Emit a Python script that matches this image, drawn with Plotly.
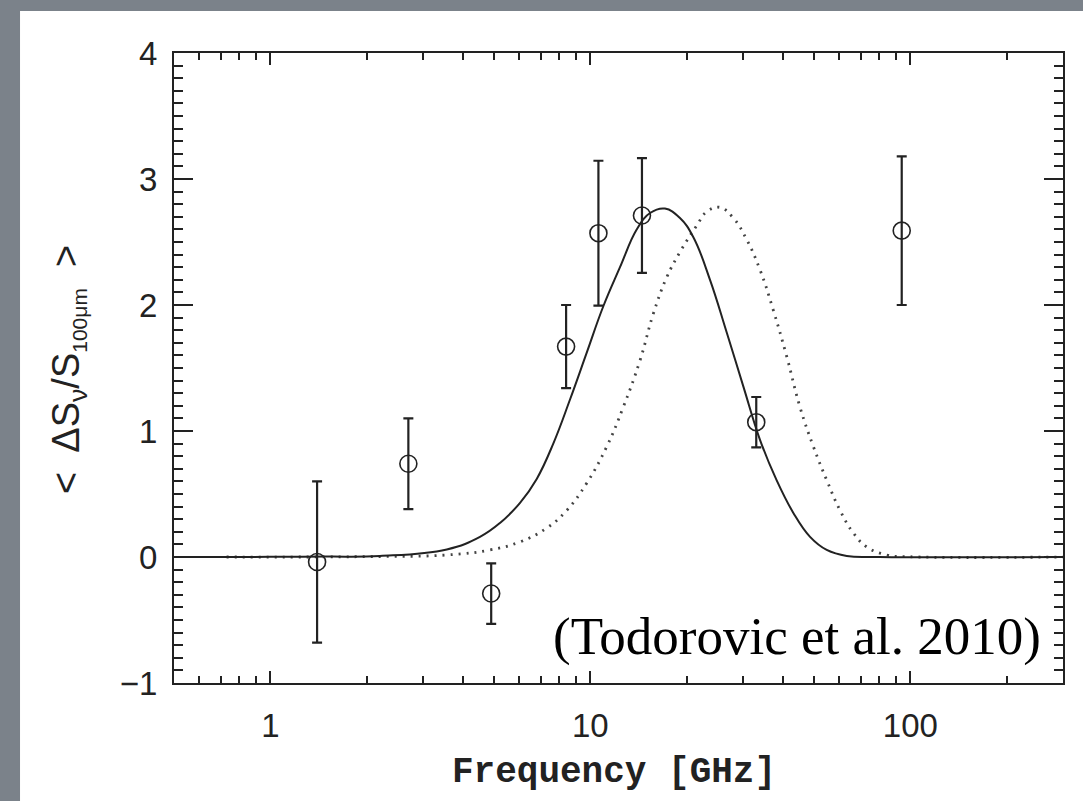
import plotly.graph_objects as go

# Measured points (frequency in GHz, ratio, symmetric 1-sigma error)
freq_ghz = [1.4, 2.7, 4.9, 8.4, 10.6, 14.5, 33.0, 94.0]
ratio = [-0.04, 0.74, -0.29, 1.67, 2.57, 2.71, 1.07, 2.59]
ratio_err = [0.64, 0.36, 0.24, 0.33, 0.575, 0.455, 0.20, 0.59]

# Solid model curve
model_a_freq = [0.5, 1.0, 1.5, 2.2, 3.56, 4.52, 5.22, 6.03, 6.80, 7.66, 8.64, 9.74,
                10.98, 12.38, 13.96, 15.37, 17.1, 19.06, 20.97, 23.66, 26.7, 30.1,
                33.9, 38.2, 43.1, 48.6, 54.8, 63.3, 80.0, 300.0]
model_a_vals = [0.0, 0.001, 0.003, 0.008, 0.06, 0.16, 0.27, 0.43, 0.62, 0.90, 1.25, 1.62,
                1.99, 2.30, 2.60, 2.73, 2.765, 2.69, 2.54, 2.20, 1.78, 1.35,
                0.93, 0.61, 0.35, 0.16, 0.056, 0.008, 0.0, 0.0]

# Dotted model curve
model_b_freq = [0.73, 2.0, 3.56, 4.86, 6.03, 7.31, 8.44, 9.74, 11.25, 12.68, 14.3, 15.73,
                17.33, 19.06, 21.5, 23.1, 25.4, 28.0, 30.8, 33.9, 37.3, 41.1, 45.2,
                49.8, 54.8, 60.3, 66.4, 73.1, 84.4, 99.8, 300.0]
model_b_vals = [0.0, 0.003, 0.016, 0.056, 0.12, 0.23, 0.37, 0.585, 0.875, 1.19, 1.56, 1.93,
                2.22, 2.42, 2.63, 2.74, 2.775, 2.69, 2.52, 2.28, 1.96, 1.59, 1.19,
                0.875, 0.61, 0.37, 0.19, 0.08, 0.016, 0.002, 0.0]

x_tickvals = [1, 10, 100]
x_ticktext = ["1", "10", "100"]
x_minor_tickvals = [0.6, 0.7, 0.8, 0.9, 2, 3, 4, 5, 6, 7, 8, 9,
                    20, 30, 40, 50, 60, 70, 80, 90, 200, 300]

INK = "#222222"

fig = go.Figure()
fig.add_trace(go.Scatter(
    x=model_b_freq, y=model_b_vals, mode="lines",
    line=dict(color="#444444", width=2.8, dash="2px,6px", shape="spline", smoothing=1.2),
    showlegend=False, hoverinfo="skip"))
fig.add_trace(go.Scatter(
    x=model_a_freq, y=model_a_vals, mode="lines",
    line=dict(color=INK, width=2, shape="spline", smoothing=1.2),
    showlegend=False, hoverinfo="skip"))
fig.add_trace(go.Scatter(
    x=freq_ghz, y=ratio, mode="markers",
    marker=dict(symbol="circle-open", size=17, color=INK, line=dict(width=1.6, color=INK)),
    error_y=dict(type="data", array=ratio_err, visible=True, color=INK, thickness=2.2, width=5),
    showlegend=False))

axis_font = dict(family="Liberation Sans, Arial, sans-serif", size=33, color=INK)

fig.update_layout(
    width=1083, height=801, autosize=False,
    margin=dict(l=174, r=20, t=53, b=118),
    paper_bgcolor="#7b828a",
    plot_bgcolor="white",
    showlegend=False,
    xaxis=dict(
        type="log", range=[-0.30103, 2.47712],
        tickmode="array", tickvals=x_tickvals, ticktext=x_ticktext,
        ticks="inside", ticklen=12, tickwidth=2, tickcolor=INK,
        minor=dict(tickmode="array", tickvals=x_minor_tickvals, ticks="inside",
                   ticklen=7, tickwidth=2, tickcolor=INK, showgrid=False),
        showline=True, linewidth=2, linecolor=INK, mirror="ticks",
        showgrid=False, zeroline=False,
        tickfont=axis_font, ticklabelstandoff=12,
    ),
    yaxis=dict(
        range=[-1, 4], tickmode="linear", tick0=0, dtick=1,
        ticks="inside", ticklen=19, tickwidth=2, tickcolor=INK,
        minor=dict(dtick=0.1, ticks="inside", ticklen=9, tickwidth=2,
                   tickcolor=INK, showgrid=False),
        showline=True, linewidth=2, linecolor=INK, mirror="ticks",
        showgrid=False, zeroline=False,
        tickfont=axis_font, ticklabelstandoff=8,
    ),
    shapes=[dict(type="rect", xref="paper", yref="paper",
                 x0=-0.1732, x1=1.05, y0=-0.25, y1=1.0667,
                 fillcolor="white", line=dict(width=0), layer="below")],
    annotations=[
        dict(text="Frequency [GHz]", xref="paper", yref="paper",
             x=0.4955, y=-0.1413, xanchor="center", yanchor="middle", showarrow=False,
             font=dict(family="Liberation Mono, Courier New, monospace", size=36,
                       color=INK, weight="bold")),
        dict(text="<  ΔS<sub>ν</sub>/S<sub><span style='font-size:21px'>100μm</span></sub>  >",
             xref="paper", yref="paper", x=-0.1181, y=0.497, textangle=-90,
             xanchor="center", yanchor="middle", showarrow=False,
             font=dict(family="Liberation Sans, Arial, sans-serif", size=38, color=INK)),
        dict(text="(Todorovic et al. 2010)", xref="paper", yref="paper",
             x=0.9775, y=0.0746, xanchor="right", yanchor="middle", showarrow=False,
             font=dict(family="Liberation Serif, Times New Roman, serif", size=53,
                       color="black")),
    ],
)

fig.write_html("out.html")
